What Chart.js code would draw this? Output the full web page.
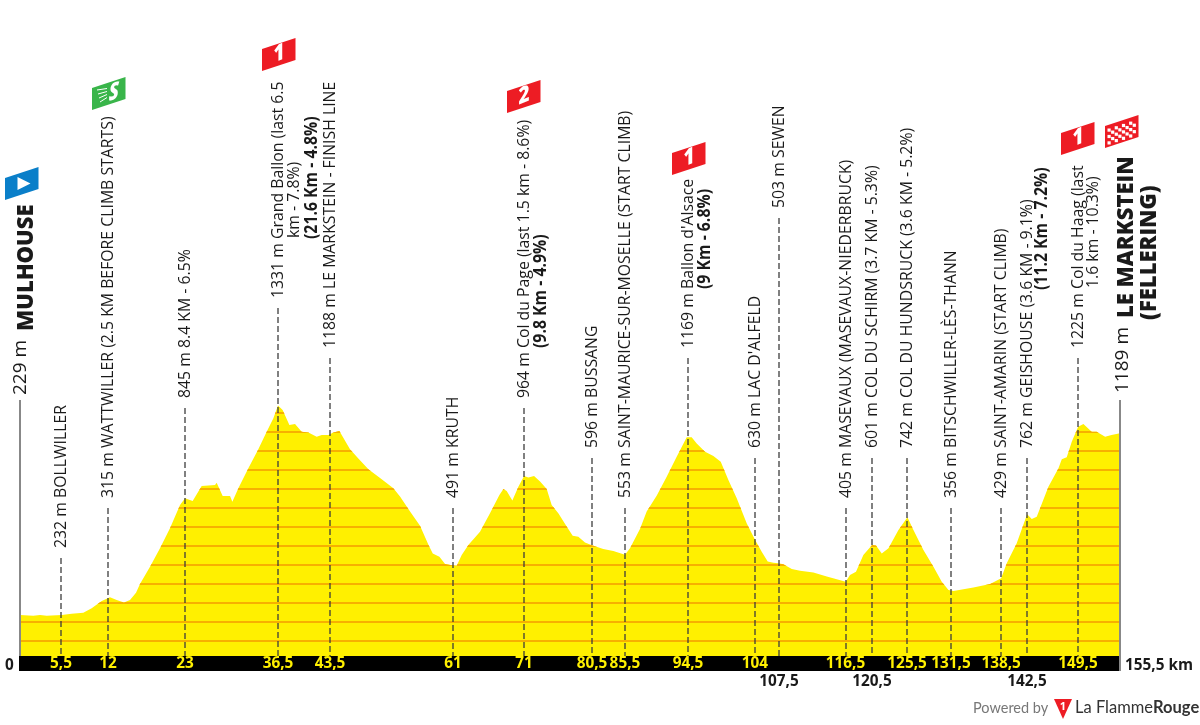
<!DOCTYPE html>
<html>
<head>
<meta charset="utf-8">
<title>Mulhouse - Le Markstein</title>
<script src="https://cdn.jsdelivr.net/npm/chart.js@4/dist/chart.umd.min.js"></script>
<style>
  html, body { margin: 0; padding: 0; background: #fff; }
  canvas { display: block; }
</style>
</head>
<body>
<canvas id="perfil" width="1200" height="725"></canvas>
<script>
/* Profile: km and metres */
const profileKm = [0, 1.88, 2.83, 3.77, 5.89, 7.3, 8.95, 10.13, 11.55, 12.72, 13.67, 14.7, 15.55, 16.4, 16.96, 18.38, 19.79, 21.2, 22.62, 23.33, 24.41, 25.68, 27.57, 27.8, 28.65, 29.69, 30.02, 30.87, 32.28, 33.69, 34.87, 35.82, 36.47, 37.13, 38.08, 38.88, 39.82, 40.77, 41.94, 42.65, 43.59, 44.3, 45.15, 45.95, 46.65, 47.83, 49.25, 51.13, 52.78, 53.72, 55.14, 56.55, 57.75, 58.35, 59.29, 60.09, 61.26, 61.73, 62.44, 63.38, 65.03, 66.44, 67.77, 68.33, 68.8, 69.6, 70.45, 71.26, 71.87, 72.67, 73.52, 74.46, 75.16, 76.1, 77.28, 78.13, 78.93, 79.87, 80.85, 82.45, 83.87, 85.52, 86.23, 87.64, 88.59, 90, 91.42, 92.83, 94.25, 94.95, 95.66, 96.84, 98.02, 99.06, 100.14, 101.32, 102.74, 103.92, 104.85, 105.7, 106.5, 107.2, 107.92, 109.1, 110.27, 112.16, 114.05, 116.73, 117.33, 118.18, 119.22, 120.45, 121.01, 121.82, 122.77, 124.18, 125.45, 126.3, 127.71, 129.13, 130.3, 131.25, 131.95, 134.78, 137.14, 138.7, 139.49, 140.9, 142.37, 143.03, 143.73, 145.38, 146.8, 147.27, 147.97, 148.68, 149.58, 150.33, 151.5, 152.2, 153.4, 154.3, 155.5];
const profileElevation = [237, 233, 237, 233, 237, 244, 249, 272, 311, 330, 316, 302, 316, 354, 400, 491, 588, 693, 816, 851, 837, 916, 921, 933, 863, 863, 833, 904, 1009, 1109, 1202, 1272, 1340, 1316, 1237, 1242, 1202, 1198, 1175, 1184, 1184, 1198, 1205, 1154, 1109, 1061, 1004, 951, 904, 860, 781, 707, 605, 561, 544, 505, 498, 496, 553, 605, 675, 772, 868, 900, 889, 839, 912, 968, 961, 968, 939, 900, 816, 772, 702, 654, 649, 618, 604, 584, 574, 554, 588, 689, 781, 865, 965, 1070, 1172, 1172, 1140, 1096, 1074, 1044, 947, 851, 719, 632, 570, 518, 512, 509, 504, 479, 470, 460, 439, 412, 447, 465, 553, 605, 602, 561, 588, 684, 751, 684, 579, 491, 412, 368, 363, 381, 400, 430, 509, 614, 767, 742, 754, 912, 1009, 1056, 1067, 1149, 1228, 1242, 1202, 1202, 1175, 1184, 1193];

/* Orange contour lines, one every 100 m */
const contourLevels = [100, 200, 300, 400, 500, 600, 700, 800, 900, 1000, 1100, 1200, 1300];

/* Points of the route */
const stopKm = [5.8, 12.44, 23.32, 36.47, 43.82, 61.2, 71.25, 80.86, 85.52, 94.43, 103.9, 107.3, 116.7, 120.44, 125.4, 131.6, 138.7, 142.35, 149.56];
const stopKmLabels = ["5,5", "12", "23", "36,5", "43,5", "61", "71", "80,5", "85,5", "94,5", "104", "107,5", "116,5", "120,5", "125,5", "131,5", "138,5", "142,5", "149,5"];
const stopNames = [
    "232 m BOLLWILLER",
    "315 m WATTWILLER (2.5 KM BEFORE CLIMB STARTS)",
    "845 m 8.4 KM - 6.5%",
    "1331 m Grand Ballon (last 6.5",
    "1188 m LE MARKSTEIN - FINISH LINE",
    "491 m KRUTH",
    "964 m Col du Page (last 1.5 km - 8.6%)",
    "596 m BUSSANG",
    "553 m SAINT-MAURICE-SUR-MOSELLE (START CLIMB)",
    "1169 m Ballon d'Alsace",
    "630 m LAC D'ALFELD",
    "503 m SEWEN",
    "405 m MASEVAUX (MASEVAUX-NIEDERBRUCK)",
    "601 m COL DU SCHIRM (3.7 KM - 5.3%)",
    "742 m COL DU HUNDSRUCK (3.6 KM - 5.2%)",
    "356 m BITSCHWILLER-LÈS-THANN",
    "429 m SAINT-AMARIN (START CLIMB)",
    "762 m GEISHOUSE (3.6 KM - 9.1%)",
    "1225 m Col du Haag (last",
];

/* Km labels that go below the black band */
const lowKmLabels = ["107,5", "120,5", "142,5"];

/* Where each stem starts and its label ends (page y) */
const stemTops = [558, 508, 408, 308, 358, 508, 408, 458, 508, 358, 458, 218, 508, 458, 458, 508, 508, 458, 358];

/* Second and third lines of the long labels: text, baseline x, bottom y, bold */
const extraLines = [
    ["km - 7.8%)", 298.5, 238, false],
    ["(21.6 Km - 4.8%)", 317, 239, true],
    ["(9.8 Km - 4.9%)", 546, 348, true],
    ["(9 Km - 6.8%)", 710, 289, true],
    ["(11.2 Km - 7.2%)", 1046.5, 290, true],
    ["1.6 km - 10.3%)", 1098, 288, false],
];

const YELLOW = "#fff000";
const ORANGE = "#f7b000";
const FONT = '"Open Sans"';
const NARROW = 0.93;

function vertical(ctx, text, x, y, font, stretch) {
    // Escreve o texto girado 90 graus, de baixo para cima
    ctx.save();
    ctx.translate(x, y);
    ctx.rotate(-Math.PI / 2);
    ctx.scale(stretch || 1, 1);
    ctx.font = font;
    ctx.fillStyle = "#1a1a1a";
    ctx.textAlign = "left";
    ctx.textBaseline = "alphabetic";
    ctx.fillText(text, 0, 0);
    ctx.restore();
}

function narrowText(ctx, text, x, y, color, align) {
    // Rótulos de km: um pouco mais altos que a fonte normal
    ctx.save();
    ctx.translate(x, y);
    ctx.scale(NARROW, 1);
    ctx.font = "700 16.5px " + FONT;
    ctx.fillStyle = color;
    ctx.textAlign = align;
    ctx.textBaseline = "middle";
    ctx.fillText(text, 0, 0);
    ctx.restore();
}

function badge(ctx, x, y, color) {
    // Bandeira inclinada de 33 x 22 px
    ctx.fillStyle = color;
    ctx.beginPath();
    ctx.moveTo(x, y + 11);
    ctx.lineTo(x + 33.5, y);
    ctx.lineTo(x + 33.5, y + 22);
    ctx.lineTo(x, y + 33);
    ctx.closePath();
    ctx.fill();
}

function badgeText(ctx, cx, cy, text, font) {
    // Texto branco inclinado junto com a bandeira
    ctx.save();
    ctx.translate(cx, cy);
    ctx.transform(0.82, -0.33, 0, 1, 0, 0);
    ctx.fillStyle = "#fff";
    ctx.font = font;
    ctx.textAlign = "center";
    ctx.textBaseline = "middle";
    ctx.fillText(text, 0, 0);
    ctx.restore();
}

function climbBadge(ctx, x, y, text) {
    badge(ctx, x, y, "#ed1c24");
    badgeText(ctx, x + 17, y + 16, text, "800 23px " + FONT);
}

/* Linhas de nível recortadas pelo perfil */
const contourPlugin = {
    id: "contours",
    afterDatasetsDraw(chart) {
        const ctx = chart.ctx;
        const { left, right, bottom } = chart.chartArea;
        const y = chart.scales.y;
        const pts = chart.getDatasetMeta(0).data;
        ctx.save();
        ctx.beginPath();
        ctx.moveTo(pts[0].x, bottom);
        pts.forEach((p) => ctx.lineTo(p.x, p.y));
        ctx.lineTo(pts[pts.length - 1].x, bottom);
        ctx.closePath();
        ctx.clip();
        ctx.strokeStyle = ORANGE;
        ctx.lineWidth = 2;
        contourLevels.forEach((level) => {
            const py = Math.round(y.getPixelForValue(level));
            ctx.beginPath();
            ctx.moveTo(left, py);
            ctx.lineTo(right, py);
            ctx.stroke();
        });
        ctx.restore();
    },
};

/* Hastes, textos, faixa preta e bandeiras */
const labelsPlugin = {
    id: "labels",
    afterDraw(chart) {
        const ctx = chart.ctx;
        const { left, right, bottom } = chart.chartArea;
        const x = chart.scales.x;
        const regular = "17px " + FONT;
        const bold = "700 17px " + FONT;

        // Hastes tracejadas
        ctx.save();
        ctx.strokeStyle = "rgba(60,60,60,0.65)";
        ctx.lineWidth = 2;
        ctx.setLineDash([6, 3]);
        stopKm.forEach((km, i) => {
            const px = Math.round(x.getPixelForValue(km));
            ctx.beginPath();
            ctx.moveTo(px, stemTops[i]);
            ctx.lineTo(px, bottom);
            ctx.stroke();
            vertical(ctx, stopNames[i], px + 5, stemTops[i] - 10, regular, NARROW);
        });
        ctx.restore();

        extraLines.forEach(([text, px, py, isBold]) => {
            vertical(ctx, text, px, py, isBold ? bold : regular, NARROW);
        });

        // Faixa preta com os quilômetros
        ctx.fillStyle = "#000";
        ctx.fillRect(left - 1, bottom, right - left + 1, 15);

        // Eixos laterais
        ctx.strokeStyle = "#888";
        ctx.lineWidth = 2;
        ctx.beginPath();
        ctx.moveTo(left, 400);
        ctx.lineTo(left, bottom);
        ctx.moveTo(right, 400);
        ctx.lineTo(right, bottom + 15);
        ctx.stroke();

        stopKm.forEach((km, i) => {
            const px = x.getPixelForValue(km);
            if (lowKmLabels.includes(stopKmLabels[i])) {
                narrowText(ctx, stopKmLabels[i], px, bottom + 25, "#1a1a1a", "center");
            } else {
                narrowText(ctx, stopKmLabels[i], px, bottom + 7.5, YELLOW, "center");
            }
        });
        narrowText(ctx, "0", 5, bottom + 9, "#1a1a1a", "left");
        narrowText(ctx, "155,5 km", right + 5, bottom + 9, "#1a1a1a", "left");

        // Partida e chegada
        vertical(ctx, "229 m", 26, 395, "19px " + FONT);
        vertical(ctx, "MULHOUSE", 33, 331, "800 22px " + FONT);
        vertical(ctx, "1189 m", 1128, 393, "19px " + FONT);
        vertical(ctx, "LE MARKSTEIN", 1132.5, 318, "800 22px " + FONT);
        vertical(ctx, "(FELLERING)", 1155.5, 320, "800 22px " + FONT);

        // Bandeira de partida
        badge(ctx, 5, 167, "#0a7fc9");
        ctx.fillStyle = "#fff";
        ctx.beginPath();
        ctx.moveTo(17.5, 177);
        ctx.lineTo(30.5, 183.5);
        ctx.lineTo(17.5, 190);
        ctx.closePath();
        ctx.fill();

        // Sprint
        badge(ctx, 92, 77, "#39b54a");
        badgeText(ctx, 114, 92.5, "S", "italic 800 23px " + FONT);
        ctx.strokeStyle = "#fff";
        ctx.lineWidth = 1;
        [90, 94, 98, 102].forEach((py, i) => {
            ctx.beginPath();
            ctx.moveTo(97 + i, py);
            ctx.lineTo(107, py - 1.5 - i);
            ctx.stroke();
        });

        climbBadge(ctx, 262, 38, "1");
        climbBadge(ctx, 507, 80, "2");
        climbBadge(ctx, 672, 142, "1");
        climbBadge(ctx, 1061, 122, "1");

        // Bandeira quadriculada de chegada
        badge(ctx, 1105, 115, "#ed1c24");
        ctx.fillStyle = "#fff";
        for (let c = 0; c < 8; c++) {
            for (let r = 0; r < 5; r++) {
                if ((c + r) % 2 === 0) {
                    ctx.fillRect(1107.5 + c * 3.6, 128.5 - c * 1.15 + r * 3.2, 3.2, 3.2);
                }
            }
        }

        // Rodapé
        ctx.textAlign = "left";
        ctx.textBaseline = "alphabetic";
        ctx.fillStyle = "#777";
        ctx.font = "14.5px Lato";
        ctx.fillText("Powered by", 973, 713);
        ctx.fillStyle = "#ed1c24";
        ctx.beginPath();
        ctx.moveTo(1054, 699);
        ctx.lineTo(1072, 699);
        ctx.lineTo(1063, 719);
        ctx.closePath();
        ctx.fill();
        ctx.fillStyle = "#fff";
        ctx.font = "700 11px " + FONT;
        ctx.textAlign = "center";
        ctx.fillText("1", 1063, 710);
        ctx.textAlign = "left";
        ctx.fillStyle = "#333";
        ctx.font = "16.5px Lato";
        ctx.fillText("La Flamme", 1075, 713);
        const w = ctx.measureText("La Flamme").width;
        ctx.font = "700 16.5px Lato";
        ctx.fillText("Rouge", 1075 + w, 713);
    },
};

const perfil = new Chart(document.getElementById("perfil").getContext("2d"), {
    type: "line",
    data: {
        datasets: [{
            data: profileKm.map((km, i) => ({ x: km, y: profileElevation[i] })),
            borderWidth: 0,
            pointRadius: 0,
            tension: 0,
            fill: "start",
            backgroundColor: YELLOW,
        }],
    },
    options: {
        responsive: false,
        animation: false,
        layout: { padding: { left: 20, right: 80, top: 0, bottom: 69 } },
        plugins: { legend: { display: false }, tooltip: { enabled: false } },
        scales: {
            x: { type: "linear", min: 0, max: 155.5, display: false },
            y: { min: 21, max: 3474, display: false },
        },
    },
    plugins: [contourPlugin, labelsPlugin],
});
</script>
</body>
</html>
